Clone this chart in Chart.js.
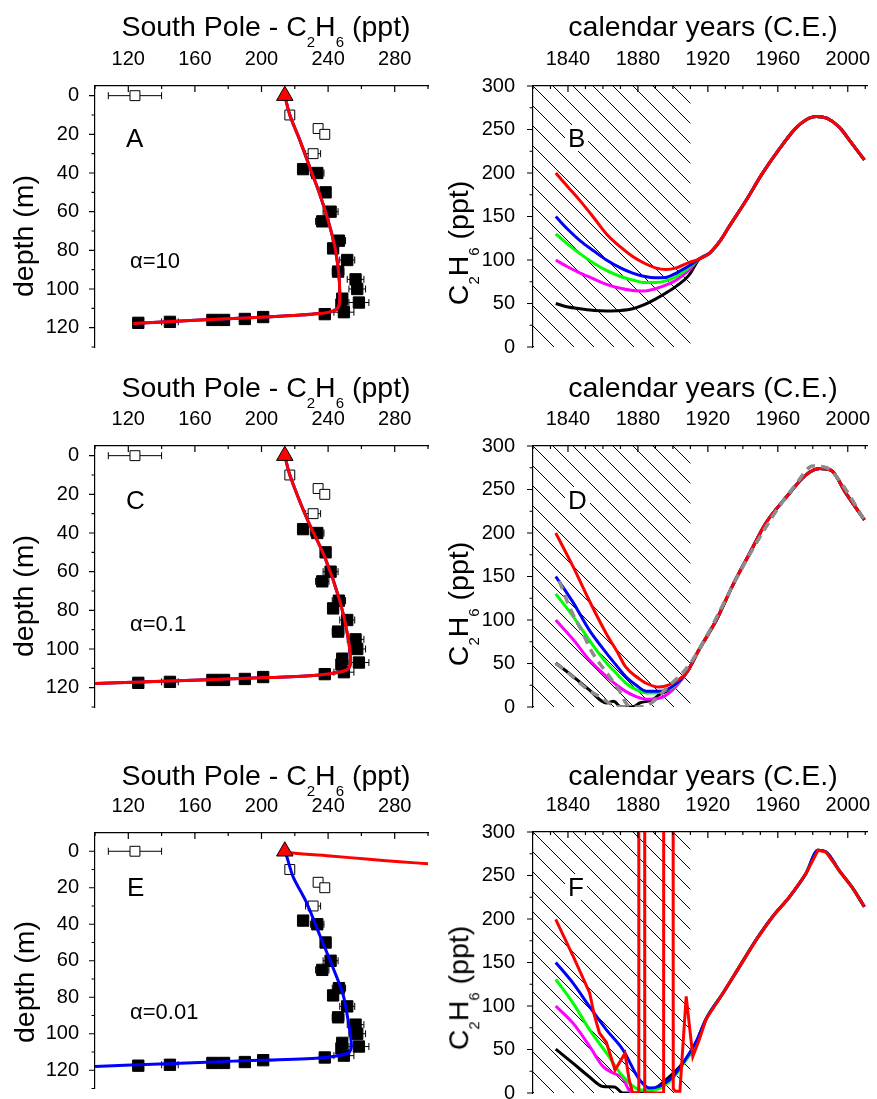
<!DOCTYPE html>
<html>
<head>
<meta charset="utf-8">
<script src="https://cdn.jsdelivr.net/npm/chart.js@4.4.1/dist/chart.umd.min.js"></script>
<style>
  body { margin: 0; background: #fff; }
  #fig { position: relative; width: 877px; height: 1099px; overflow: hidden; background: #fff;
         font-family: "Liberation Sans", Arial, sans-serif; color: #000; }
  #fig canvas { position: absolute; }
  .ttl { position: absolute; width: 440px; text-align: center; font-size: 28.5px; line-height: 28.5px; white-space: nowrap; }
  .rot { position: absolute; font-size: 28.5px; line-height: 28.5px; white-space: nowrap;
         transform: translate(-50%, -50%) rotate(-90deg); }
  .sub { font-size: 15px; position: relative; top: 10.5px; }
  .lab { position: absolute; font-size: 26px; line-height: 26px; background: #fff; padding: 0 3px; }
  .alp { position: absolute; font-size: 22px; line-height: 22px; }
</style>
</head>
<body>
<div id="fig">
  <canvas id="cA" width="440" height="360" style="left:0;top:0"></canvas>
  <canvas id="cB" width="437" height="360" style="left:440px;top:0"></canvas>
  <canvas id="cC" width="440" height="360" style="left:0;top:360px"></canvas>
  <canvas id="cD" width="437" height="360" style="left:440px;top:360px"></canvas>
  <canvas id="cE" width="440" height="369" style="left:0;top:730px"></canvas>
  <canvas id="cF" width="437" height="369" style="left:440px;top:730px"></canvas>

  <div class="ttl" style="left:46px;top:12px">South Pole - C<span class="sub">2</span>H<span class="sub">6</span> (ppt)</div>
  <div class="ttl" style="left:483px;top:12px">calendar years (C.E.)</div>
  <div class="ttl" style="left:46px;top:373px">South Pole - C<span class="sub">2</span>H<span class="sub">6</span> (ppt)</div>
  <div class="ttl" style="left:483px;top:373px">calendar years (C.E.)</div>
  <div class="ttl" style="left:46px;top:761px">South Pole - C<span class="sub">2</span>H<span class="sub">6</span> (ppt)</div>
  <div class="ttl" style="left:483px;top:761px">calendar years (C.E.)</div>

  <div class="rot" style="left:23px;top:236px">depth (m)</div>
  <div class="rot" style="left:23px;top:596px">depth (m)</div>
  <div class="rot" style="left:24px;top:982px">depth (m)</div>
  <div class="rot" style="left:461px;top:243px">C<span class="sub">2</span>H<span class="sub">6</span> (ppt)</div>
  <div class="rot" style="left:461px;top:604px">C<span class="sub">2</span>H<span class="sub">6</span> (ppt)</div>
  <div class="rot" style="left:461px;top:988px">C<span class="sub">2</span>H<span class="sub">6</span> (ppt)</div>

  <div class="lab" style="left:123px;top:125px">A</div>
  <div class="lab" style="left:565px;top:125px">B</div>
  <div class="lab" style="left:123px;top:487px">C</div>
  <div class="lab" style="left:565px;top:487px">D</div>
  <div class="lab" style="left:124px;top:874px">E</div>
  <div class="lab" style="left:565px;top:874px">F</div>

  <div class="alp" style="left:130px;top:250px">&alpha;=10</div>
  <div class="alp" style="left:130px;top:613px">&alpha;=0.1</div>
  <div class="alp" style="left:130px;top:1001px">&alpha;=0.01</div>
</div>

<script>
// tick labels
const ppbTicks = [120, 160, 200, 240, 280];
const depthTicks = [0, 20, 40, 60, 80, 100, 120];
const yearTicks = [1840, 1880, 1920, 1960, 2000];
const mixTicks = [0, 50, 100, 150, 200, 250, 300];

// firn air data (open = upper firn, filled = deeper firn)
const openC2H6 = [124, 217, 234, 238, 231];
const openDepth = [0, 10, 17, 20, 30];
const openErr = [16, 2.5, 2, 2, 4.5];
const fillC2H6 = [225, 233.5, 238.5, 241.5, 236.5, 246.5, 243, 251.5, 246, 256.5, 257.5, 258.5, 248.5, 248, 249.5, 238, 126, 145, 170.5, 177.5, 190, 201];
const fillDepth = [38, 40, 50, 60, 65, 75, 79, 85, 91, 95, 100, 107, 105, 108, 112, 113, 117.5, 117, 116, 116, 115.5, 114.5];
const fillErr = [2.5, 4, 2.5, 4.5, 4, 4, 3, 4.5, 3.5, 5, 5, 6, 3, 3, 6, 3, 3, 5, 3, 3, 3, 3];
const surfC2H6 = [214];
const surfDepth = [0];

// modelled firn profiles
const profA_x = [214, 217, 223, 229, 235, 240, 244, 246.4, 247, 246.6, 244, 235, 203, 163, 123];
const profA_y = [0, 10, 23, 37, 51, 64.5, 78, 92, 102, 108.4, 111, 112.7, 114.5, 116, 117.8];
const profC_x = [214, 217, 227, 238, 247, 252, 253.4, 251, 233, 203, 163, 100];
const profC_y = [0, 10, 32, 52.5, 75, 94, 107.6, 111, 113.6, 114.8, 116, 117.9];
const profEblue_x = [214, 215, 219, 227, 235, 243, 249, 252.6, 254, 252, 233, 183, 143, 100];
const profEblue_y = [0, 2.3, 14, 28, 46, 64, 78.5, 96, 107, 110.7, 113.4, 115, 116.4, 117.9];
const profEred_x = [214, 219, 243, 263, 283, 302];
const profEred_y = [0, 1, 2.7, 4.3, 5.8, 6.9];

// atmospheric histories, panel B
const yrB = [1833, 1840, 1847, 1855, 1862, 1870, 1877, 1884, 1890, 1896, 1902, 1909];
const redB = [200, 184, 168, 148, 130, 115, 104, 96, 91, 89, 91, 97];
const blueB = [150, 135, 122, 110, 100, 91, 85, 81, 79.5, 80, 85, 93];
const greenB = [130, 118, 107, 96, 88, 81, 77, 74, 74, 76, 81, 91];
const magB = [100, 92, 85, 78, 72, 67.5, 65, 64.5, 67, 71, 77, 88];
const blackB = [50, 46, 44, 42, 41.5, 42, 44, 49, 55, 62, 70, 82];
const tailYrB = [1915, 1921, 1927, 1932, 1942, 1951, 1961, 1970, 1976, 1982, 1988, 1995, 2002, 2009.5];
const tailB = [101, 108, 122, 138, 169, 199, 228, 251, 261, 265, 263, 253, 235, 215];

// panel D
const yrD = [1833, 1843, 1852, 1862, 1868, 1873, 1879, 1885, 1892, 1900];
const redD = [200, 161, 123, 84, 64, 46, 35, 27, 23, 27.6];
const blueD = [150, 120, 89, 62, 47, 35, 25, 18, 18, 24];
const greenD = [130, 104, 77.5, 50.6, 38, 27.6, 20, 16, 17, 23];
const magD = [100, 77.5, 54.5, 35, 25, 18, 12, 9, 10, 20];
const blackYrD = [1833, 1843, 1852, 1862, 1866, 1870.5, 1877, 1881, 1888.6, 1892, 1900];
const blackD = [50.6, 35, 20, 4.6, 6.5, 0, 0, 4.6, 8.4, 14, 22];
const tailYrD = [1908, 1915, 1925, 1934, 1944, 1953, 1965, 1976, 1984, 1990.5, 1999, 2009.5];
const tailD = [40, 66, 100.5, 139, 177, 211, 241.6, 266.6, 274, 272, 245.5, 215];
const grayYrD = [1835, 1842, 1848, 1853.5, 1863, 1869, 1875, 1881, 1888, 1896, 1908, 1917, 1938, 1957, 1970, 1980, 1988, 1995, 2009.5];
const grayD = [145, 110, 87, 64, 37, 20, 1, 0, 5, 21, 45, 73, 154, 219, 255, 277, 275, 261, 215];
const gray2YrD = [1833, 1839, 1846, 1852, 1858, 1864, 1870, 1876];
const gray2D = [50, 41, 29, 19, 12, 4, 0, 0];

// panel F
const yrF = [1833, 1843, 1852.4, 1862, 1871.4, 1881, 1886.7, 1892, 1900, 1909.5, 1914];
const blueF = [150, 126, 99, 72.6, 49.7, 15, 5.7, 7.6, 19, 45.9, 62];
const greenF = [130.7, 103, 72.6, 46, 19, 3.8, 3, 5, 17, 44, 60];
const magYrF = [1833, 1843, 1852.4, 1860, 1865.7, 1871.4, 1875, 1878];
const magF = [100, 80, 53.5, 30.6, 23, 17, 3, 0];
const blackYrF = [1833, 1843, 1852, 1860, 1866.7, 1871.4, 1881, 1888.6, 1896, 1904, 1911.4];
const blackF = [50.4, 34, 19, 7.6, 7, 0, 0, 3.8, 15, 30.6, 49.7];
const redYrF = [1833, 1843, 1852.4, 1855, 1858, 1862, 1866.9, 1872.6, 1875, 1877, 1880.2, 1880.5, 1883.6, 1883.9, 1894.7, 1895, 1899.7, 1900.2, 1901.5, 1904, 1907.6, 1911.4, 1915];
const redF = [199.5, 157, 115, 90, 69, 58, 26.4, 45.6, 15, 0, 0, 3000, 3000, 0, 0, 3000, 3000, 5, 2, 2, 111, 42, 61];
const tailYrF = [1919, 1928.6, 1938, 1947.6, 1957, 1966.7, 1976, 1983, 1987.6, 1995, 2003, 2009.5];
const tailF = [85, 114.6, 145, 176, 202.6, 225.5, 252, 279, 277, 256, 235, 214];

// end of the hatched (poorly constrained) period
const hatchEnd = 1910;

const FONT = '"Liberation Sans", Arial, sans-serif';
const RED = '#ff0000', BLUE = '#0000ff', GREEN = '#00ff00', MAG = '#ff00ff', BLACK = '#000000', GRAY = '#8c8c8c';

const pts = (xs, ys) => xs.map((x, i) => ({ x: x, y: ys[i] }));
const withTail = (xs, ys, tx, ty) => pts(xs.concat(tx), ys.concat(ty));

const curve = (data, color, extra) => Object.assign({
  data: data, showLine: true, borderColor: color, borderWidth: 3, pointRadius: 0,
  fill: false, tension: 0.3,
}, extra || {});

// tick marks: top axis inward, left axis outward
const tickMarks = {
  id: 'tickMarks',
  afterDraw(chart, args, o) {
    const { ctx, chartArea: a } = chart;
    const xs = chart.scales.x, ys = chart.scales.y;
    ctx.save();
    ctx.strokeStyle = '#000';
    ctx.lineWidth = 1.2;
    ctx.beginPath();
    for (let v = xs.min; v <= xs.max + 1e-6; v += o.xMinor) {
      const px = xs.getPixelForValue(v);
      const len = o.xMajor.includes(v) ? 6 : 3;
      ctx.moveTo(px, a.top);
      ctx.lineTo(px, a.top + len);
    }
    for (let v = o.yStart; v <= Math.max(ys.min, ys.max) + 1e-6; v += o.yMinor) {
      const py = ys.getPixelForValue(v);
      const len = o.yMajor.includes(v) ? 6 : 3.5;
      ctx.moveTo(a.left - len, py);
      ctx.lineTo(a.left, py);
    }
    ctx.stroke();
    ctx.restore();
  }
};

// horizontal error bars of the firn data
const errorBars = {
  id: 'errorBars',
  beforeDatasetsDraw(chart) {
    const { ctx } = chart;
    const xs = chart.scales.x, ys = chart.scales.y;
    ctx.save();
    ctx.strokeStyle = '#000';
    ctx.lineWidth = 1;
    ctx.beginPath();
    const bars = (X, Y, E) => X.forEach((x, i) => {
      const py = ys.getPixelForValue(Y[i]);
      const p0 = xs.getPixelForValue(x - E[i]), p1 = xs.getPixelForValue(x + E[i]);
      ctx.moveTo(p0, py); ctx.lineTo(p1, py);
      ctx.moveTo(p0, py - 3.5); ctx.lineTo(p0, py + 3.5);
      ctx.moveTo(p1, py - 3.5); ctx.lineTo(p1, py + 3.5);
    });
    bars(openC2H6, openDepth, openErr);
    bars(fillC2H6, fillDepth, fillErr);
    ctx.stroke();
    ctx.restore();
  }
};

// diagonal hatching before hatchEnd
const hatch = {
  id: 'hatch',
  beforeDatasetsDraw(chart) {
    const { ctx, chartArea: a } = chart;
    const x1 = chart.scales.x.getPixelForValue(hatchEnd);
    const h = a.bottom - a.top;
    ctx.save();
    ctx.beginPath();
    ctx.rect(a.left, a.top, x1 - a.left, h);
    ctx.clip();
    ctx.strokeStyle = '#000';
    ctx.lineWidth = 1;
    ctx.beginPath();
    for (let s = a.left - Math.ceil(h / 20) * 20; s < x1; s += 20) {
      ctx.moveTo(s, a.top);
      ctx.lineTo(s + h, a.bottom);
    }
    ctx.stroke();
    ctx.restore();
  }
};

function axisFont() {
  return { family: FONT, size: 20 };
}

function depthChart(id, yMin, topH, padBottom, lines) {
  const sets = [
    { data: pts(surfC2H6, surfDepth), pointStyle: 'triangle', pointRadius: 9.5,
      backgroundColor: RED, borderColor: '#000', borderWidth: 1 },
  ].concat(lines).concat([
    { data: pts(fillC2H6, fillDepth), pointStyle: 'rect', pointRadius: 8,
      backgroundColor: '#000', borderColor: '#000', borderWidth: 1 },
    { data: pts(openC2H6, openDepth), pointStyle: 'rect', pointRadius: 7,
      backgroundColor: '#fff', borderColor: '#000', borderWidth: 1 },
  ]);
  return new Chart(document.getElementById(id), {
    type: 'scatter',
    data: { datasets: sets },
    options: {
      responsive: false, animation: false, devicePixelRatio: 1,
      layout: { padding: { left: 0, top: 0, right: 12, bottom: padBottom } },
      plugins: {
        legend: { display: false }, tooltip: { enabled: false },
        tickMarks: { xMinor: 20, xMajor: ppbTicks, yStart: 0, yMinor: 10, yMajor: depthTicks },
      },
      scales: {
        x: {
          type: 'linear', position: 'top', min: 100, max: 300, bounds: 'data',
          afterBuildTicks: (s) => { s.ticks = ppbTicks.map(v => ({ value: v })); },
          afterFit: (s) => { s.height = topH; s.paddingLeft = 0; s.paddingRight = 0; },
          grid: { display: false },
          border: { display: true, color: '#000', width: 1.2 },
          ticks: { padding: 7, color: '#000', font: axisFont(), maxRotation: 0, autoSkip: false,
                   callback: v => String(v) },
        },
        y: {
          type: 'linear', reverse: true, min: yMin, max: 130, bounds: 'data',
          afterBuildTicks: (s) => { s.ticks = depthTicks.map(v => ({ value: v })); },
          afterFit: (s) => { s.width = 95; s.paddingTop = 0; s.paddingBottom = 0; },
          grid: { display: false },
          border: { display: true, color: '#000', width: 1.2 },
          ticks: { padding: 8, color: '#000', font: axisFont(), autoSkip: false,
                   callback: v => String(v) },
        },
      },
    },
    plugins: [errorBars, tickMarks],
  });
}

function yearChart(id, topH, padBottom, lines) {
  return new Chart(document.getElementById(id), {
    type: 'scatter',
    data: { datasets: lines },
    options: {
      responsive: false, animation: false, devicePixelRatio: 1,
      layout: { padding: { left: 0, top: 0, right: 10, bottom: padBottom } },
      plugins: {
        legend: { display: false }, tooltip: { enabled: false },
        tickMarks: { xMinor: 10, xMajor: yearTicks, yStart: 0, yMinor: 25, yMajor: mixTicks },
      },
      scales: {
        x: {
          type: 'linear', position: 'top', min: 1820, max: 2011, bounds: 'data',
          afterBuildTicks: (s) => { s.ticks = yearTicks.map(v => ({ value: v })); },
          afterFit: (s) => { s.height = topH; s.paddingLeft = 0; s.paddingRight = 0; },
          grid: { display: false },
          border: { display: true, color: '#000', width: 1.2 },
          ticks: { padding: 7, color: '#000', font: axisFont(), maxRotation: 0, autoSkip: false,
                   callback: v => String(v) },
        },
        y: {
          type: 'linear', min: 0, max: 300, bounds: 'data',
          afterBuildTicks: (s) => { s.ticks = mixTicks.map(v => ({ value: v })); },
          afterFit: (s) => { s.width = 93; s.paddingTop = 0; s.paddingBottom = 0; },
          grid: { display: false },
          border: { display: true, color: '#000', width: 1.2 },
          ticks: { padding: 10, color: '#000', font: axisFont(), autoSkip: false,
                   callback: v => String(v) },
        },
      },
    },
    plugins: [hatch, tickMarks],
  });
}

const mono = { cubicInterpolationMode: 'monotone' };
const dash = { borderColor: GRAY, borderWidth: 3.5, borderDash: [9, 6], cubicInterpolationMode: 'monotone' };

// left column
depthChart('cA', -5, 86, 13, [
  curve(pts(profA_x, profA_y), RED),
  curve(pts(profA_x, profA_y), BLUE),
]);
depthChart('cC', -5, 86, 13, [
  curve(pts(profC_x, profC_y), RED),
  curve(pts(profC_x, profC_y), BLUE),
]);
depthChart('cE', -10, 103, 6, [
  curve(pts(profEred_x, profEred_y), RED),
  curve(pts(profEblue_x, profEblue_y), BLUE),
]);

// right column (first dataset is drawn on top)
yearChart('cB', 86, 13, [
  curve(withTail(yrB, redB, tailYrB, tailB), RED, mono),
  curve(withTail(yrB, blueB, tailYrB, tailB), BLUE, mono),
  curve(withTail(yrB, greenB, tailYrB, tailB), GREEN, mono),
  curve(withTail(yrB, magB, tailYrB, tailB), MAG, mono),
  curve(withTail(yrB, blackB, tailYrB, tailB), BLACK, mono),
]);
yearChart('cD', 86, 13, [
  curve(pts(grayYrD, grayD), GRAY, dash),
  curve(pts(gray2YrD, gray2D), GRAY, dash),
  curve(withTail(yrD, redD, tailYrD, tailD), RED, mono),
  curve(withTail(yrD, blueD, tailYrD, tailD), BLUE, mono),
  curve(withTail(yrD, greenD, tailYrD, tailD), GREEN, mono),
  curve(withTail(yrD, magD, tailYrD, tailD), MAG, mono),
  curve(withTail(blackYrD, blackD, tailYrD, tailD), BLACK, mono),
]);
yearChart('cF', 102, 6, [
  curve(withTail(redYrF, redF, tailYrF, tailF), RED, { tension: 0 }),
  curve(withTail(yrF, blueF, tailYrF, tailF), BLUE, mono),
  curve(withTail(yrF, greenF, tailYrF, tailF), GREEN, mono),
  curve(pts(magYrF, magF), MAG, mono),
  curve(withTail(blackYrF, blackF, tailYrF, tailF), BLACK, mono),
]);
</script>
</body>
</html>
